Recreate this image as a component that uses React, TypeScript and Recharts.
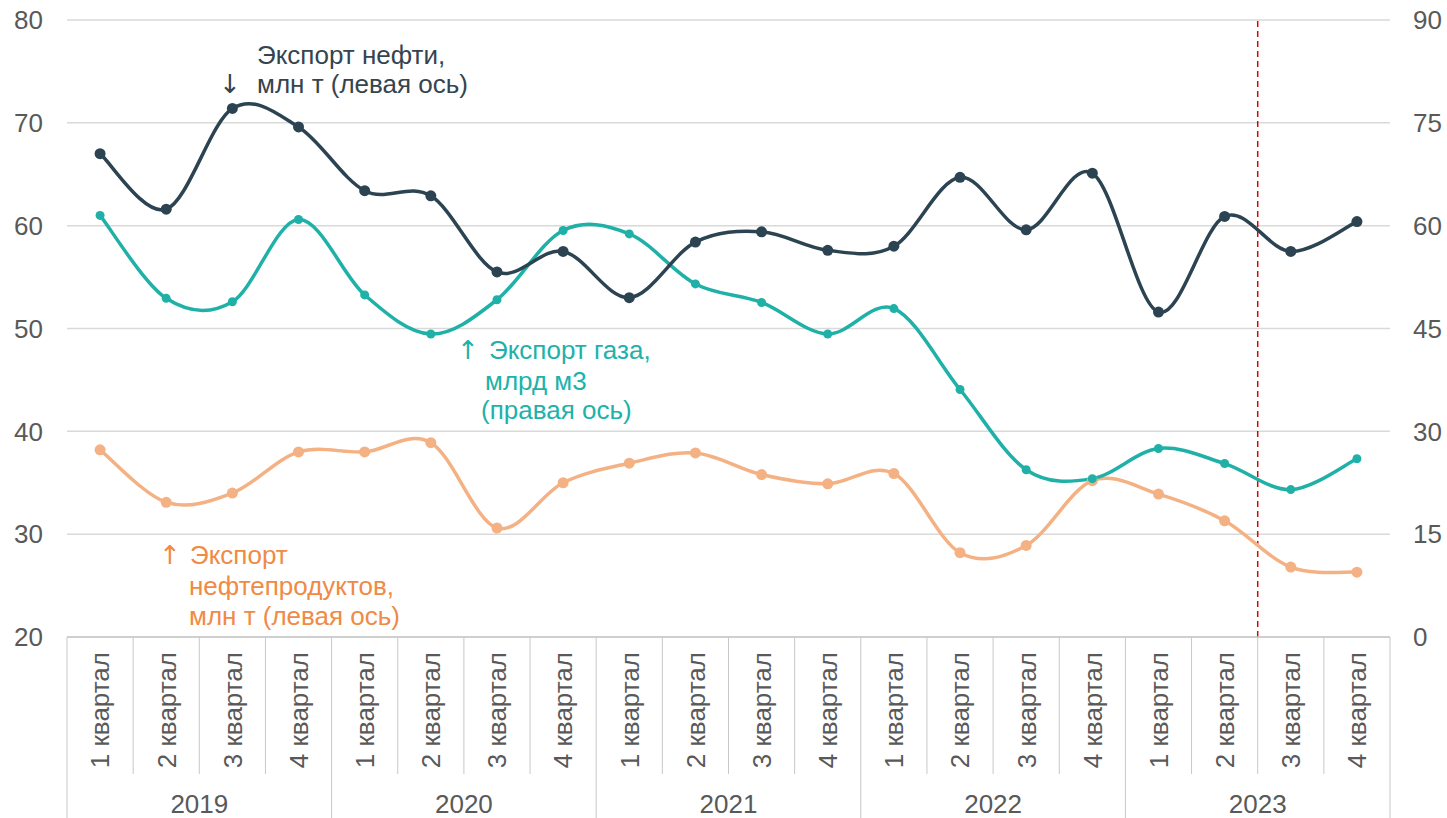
import React from "react";
import {
  LineChart,
  Line,
  XAxis,
  YAxis,
  CartesianGrid,
  ReferenceLine,
} from "recharts";

const YEARS = ["2019", "2020", "2021", "2022", "2023"];
const QUARTERS = ["1 квартал", "2 квартал", "3 квартал", "4 квартал"];

// экспорт нефти, млн т (левая ось)
const oil = [67.0, 61.6, 71.4, 69.6, 63.4, 62.9, 55.5, 57.5, 53.0, 58.4, 59.4, 57.6, 58.0, 64.7, 59.6, 65.1, 51.6, 60.9, 57.5, 60.4];
// экспорт газа, млрд м3 (правая ось)
const gas = [61.5, 49.4, 48.9, 60.9, 49.9, 44.2, 49.2, 59.3, 58.8, 51.5, 48.8, 44.2, 47.9, 36.1, 24.4, 23.1, 27.5, 25.3, 21.5, 26.0];
// экспорт нефтепродуктов, млн т (левая ось)
const products = [38.2, 33.1, 34.0, 38.0, 38.0, 38.9, 30.6, 35.0, 36.9, 37.9, 35.8, 34.9, 35.9, 28.2, 28.9, 35.2, 33.9, 31.3, 26.8, 26.3];

const leftTicks = [20, 30, 40, 50, 60, 70, 80];
const rightTicks = [0, 15, 30, 45, 60, 75, 90];

// граница между фактом и оценкой: после 2 кв. 2023
const FORECAST_FROM = 17.5;

const W = 1447;
const H = 818;
const LEFT_W = 67;
const RIGHT_W = 57;
const X_AXIS_H = 181;
const N = oil.length;
const BAND = (W - LEFT_W - RIGHT_W) / N;

const data = oil.map((v, i) => ({
  idx: i,
  year: YEARS[Math.floor(i / 4)],
  quarter: QUARTERS[i % 4],
  oil: v,
  gas: gas[i],
  products: products[i],
}));
const idxTicks = data.map((d) => d.idx);

const FONT = "'Liberation Sans', Arial, sans-serif";
const ARROW_FONT = "'DejaVu Sans', sans-serif";
const FS = 26;
const GRAY = "#595959";
const LINE_GRAY = "#C8C8C8";

// сглаживание как в Excel (Catmull-Rom через кривые Безье)
function excelCurve(context: any) {
  let pts: number[][] = [];
  return {
    areaStart() {},
    areaEnd() {},
    lineStart() {
      pts = [];
    },
    point(x: number, y: number) {
      pts.push([+x, +y]);
    },
    lineEnd() {
      const n = pts.length;
      if (!n) return;
      context.moveTo(pts[0][0], pts[0][1]);
      for (let i = 0; i < n - 1; i++) {
        const p0 = pts[Math.max(i - 1, 0)];
        const p1 = pts[i];
        const p2 = pts[i + 1];
        const p3 = pts[Math.min(i + 2, n - 1)];
        context.bezierCurveTo(
          p1[0] + (p2[0] - p0[0]) / 6,
          p1[1] + (p2[1] - p0[1]) / 6,
          p2[0] - (p3[0] - p1[0]) / 6,
          p2[1] - (p3[1] - p1[1]) / 6,
          p2[0],
          p2[1]
        );
      }
    },
  };
}

const QuarterTick = (props: any) => {
  const { x, y, payload } = props;
  const i = payload.value as number;
  const d = data[i];
  if (!d) return null;
  const left = x - BAND / 2;
  const yearStart = i % 4 === 0;
  return (
    <g>
      <line
        x1={left}
        x2={left}
        y1={y}
        y2={yearStart ? y + X_AXIS_H : y + 137}
        stroke={LINE_GRAY}
        strokeWidth={1}
      />
      {i === N - 1 && (
        <line x1={left + BAND} x2={left + BAND} y1={y} y2={y + X_AXIS_H} stroke={LINE_GRAY} strokeWidth={1} />
      )}
      <text
        x={x}
        y={y + 15}
        dy="0.36em"
        transform={`rotate(-90, ${x}, ${y + 15})`}
        textAnchor="end"
        fill={GRAY}
        fontSize={FS}
        fontFamily={FONT}
      >
        {d.quarter}
      </text>
      {yearStart && (
        <text
          x={left + BAND * 2}
          y={y + 176}
          textAnchor="middle"
          fill={GRAY}
          fontSize={FS}
          fontFamily={FONT}
        >
          {d.year}
        </text>
      )}
    </g>
  );
};

const tickStyle = { fill: GRAY, fontSize: FS, fontFamily: FONT };

export default function App() {
  return (
    <div style={{ position: "absolute", left: 0, top: 0, width: W, height: H, background: "#fff" }}>
      <LineChart width={W} height={H} data={data} margin={{ top: 20, right: 0, left: 0, bottom: 0 }}>
        <CartesianGrid yAxisId="left" vertical={false} stroke="#D9D9D9" strokeWidth={1.5} />
        <XAxis
          dataKey="idx"
          type="number"
          domain={[-0.5, N - 0.5]}
          ticks={idxTicks}
          interval={0}
          height={X_AXIS_H}
          tickSize={0}
          tickMargin={0}
          tickLine={false}
          axisLine={{ stroke: LINE_GRAY, strokeWidth: 1.5 }}
          tick={<QuarterTick />}
        />
        <YAxis
          yAxisId="left"
          orientation="left"
          domain={[20, 80]}
          ticks={leftTicks}
          width={LEFT_W}
          tickSize={0}
          tickMargin={24}
          axisLine={false}
          tickLine={false}
          tick={tickStyle}
        />
        <YAxis
          yAxisId="right"
          orientation="right"
          domain={[0, 90]}
          ticks={rightTicks}
          width={RIGHT_W}
          tickSize={0}
          tickMargin={23}
          axisLine={false}
          tickLine={false}
          tick={{ ...tickStyle, textAnchor: "start" }}
        />
        <ReferenceLine
          yAxisId="left"
          x={FORECAST_FROM}
          stroke="#E00000"
          strokeWidth={1.5}
          strokeDasharray="6 4"
        />
        <Line
          yAxisId="left"
          dataKey="products"
          type={excelCurve as any}
          stroke="#F4B183"
          strokeWidth={3.5}
          dot={{ r: 5.5, fill: "#F4B183", stroke: "#F4B183", strokeWidth: 0 }}
          isAnimationActive={false}
        />
        <Line
          yAxisId="right"
          dataKey="gas"
          type={excelCurve as any}
          stroke="#1FB1A7"
          strokeWidth={3.5}
          dot={{ r: 4.5, fill: "#1FB1A7", stroke: "#1FB1A7", strokeWidth: 0 }}
          isAnimationActive={false}
        />
        <Line
          yAxisId="left"
          dataKey="oil"
          type={excelCurve as any}
          stroke="#2C4352"
          strokeWidth={3.5}
          dot={{ r: 5.5, fill: "#2C4352", stroke: "#2C4352", strokeWidth: 0 }}
          isAnimationActive={false}
        />
      </LineChart>
      <svg
        width={W}
        height={H}
        style={{ position: "absolute", left: 0, top: 0, pointerEvents: "none" }}
        fontFamily={FONT}
        fontSize={FS}
      >
        <g fill="#35444E">
          <text x={257} y={64}>Экспорт нефти,</text>
          <text x={219} y={93} fontFamily={ARROW_FONT}>↓</text>
          <text x={257} y={93}>млн т (левая ось)</text>
        </g>
        <g fill="#20B2AA">
          <text x={457} y={359} fontFamily={ARROW_FONT}>↑</text>
          <text x={489} y={359}>Экспорт газа,</text>
          <text x={485} y={390}>млрд м3</text>
          <text x={481} y={419}>(правая ось)</text>
        </g>
        <g fill="#F08A45">
          <text x={159} y={564} fontFamily={ARROW_FONT}>↑</text>
          <text x={190} y={564}>Экспорт</text>
          <text x={189} y={595}>нефтепродуктов,</text>
          <text x={189} y={625}>млн т (левая ось)</text>
        </g>
      </svg>
    </div>
  );
}
